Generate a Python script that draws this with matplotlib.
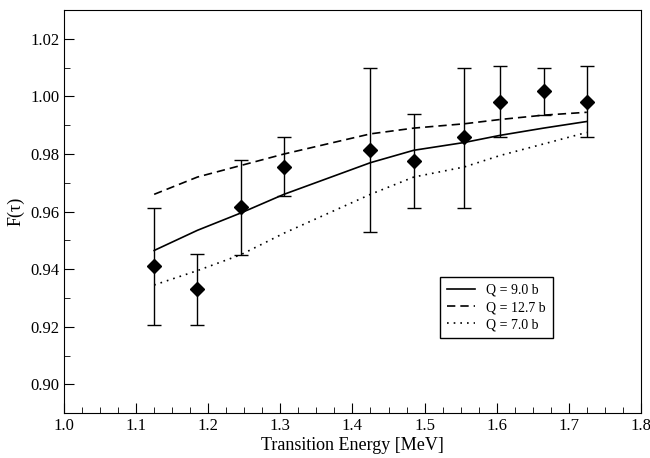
import matplotlib
matplotlib.use('Agg')
import matplotlib.pyplot as plt
from matplotlib.ticker import MultipleLocator, FormatStrFormatter

# данные
energy = [1.125, 1.185, 1.245, 1.305, 1.425, 1.485, 1.555, 1.605, 1.665, 1.725]
f_tau = [0.941, 0.933, 0.9615, 0.9755, 0.9815, 0.9775, 0.986, 0.998, 1.002, 0.998]
err_low = [0.9205, 0.9205, 0.945, 0.9655, 0.953, 0.9613, 0.9613, 0.986, 0.9935, 0.986]
err_high = [0.9613, 0.9452, 0.978, 0.986, 1.010, 0.994, 1.010, 1.0105, 1.010, 1.0105]

q_90 = [0.9465, 0.9535, 0.9595, 0.966, 0.977, 0.9813, 0.984, 0.9865, 0.989, 0.9913]
q_127 = [0.966, 0.972, 0.976, 0.980, 0.987, 0.989, 0.9905, 0.992, 0.9935, 0.9945]
q_70 = [0.9345, 0.9395, 0.945, 0.9525, 0.966, 0.972, 0.9755, 0.9795, 0.9835, 0.9875]

plt.rcParams['font.family'] = ['Liberation Serif', 'DejaVu Serif']

fig = plt.figure(figsize=(6.5, 4.58), dpi=100)
ax = fig.add_axes([0.0985, 0.098, 0.8875, 0.880])

ax.plot(energy, q_90, color='black', lw=1.2, ls='-', label='Q = 9.0 b')
ax.plot(energy, q_127, color='black', lw=1.2, ls=(0, (5, 3)), label='Q = 12.7 b')
ax.plot(energy, q_70, color='black', lw=1.2, ls=(0, (1, 3)), label='Q = 7.0 b')

yerr = [[y - lo for y, lo in zip(f_tau, err_low)],
        [hi - y for y, hi in zip(f_tau, err_high)]]
ax.errorbar(energy, f_tau, yerr=yerr, fmt='D', color='black', ms=7.5,
            ecolor='black', elinewidth=1, capsize=5, capthick=1)

ax.set_xlim(1.0, 1.8)
ax.set_ylim(0.89, 1.03)
ax.xaxis.set_major_locator(MultipleLocator(0.1))
ax.xaxis.set_minor_locator(MultipleLocator(0.025))
ax.yaxis.set_major_locator(MultipleLocator(0.02))
ax.yaxis.set_minor_locator(MultipleLocator(0.01))
ax.xaxis.set_major_formatter(FormatStrFormatter('%.1f'))
ax.yaxis.set_major_formatter(FormatStrFormatter('%.2f'))
ax.tick_params(which='both', direction='in', top=False, right=False, labelsize=12)
ax.tick_params(which='major', length=7)
ax.tick_params(which='minor', length=4)

ax.set_xlabel('Transition Energy [MeV]', fontsize=13, labelpad=2)
ax.set_ylabel('F(τ)', fontsize=13)

leg = ax.legend(loc='upper left', bbox_to_anchor=(0.64, 0.355), fontsize=10,
                fancybox=False, edgecolor='black', framealpha=1,
                handlelength=2.0, borderpad=0.5, labelspacing=0.3)
leg.get_frame().set_linewidth(1.0)

plt.savefig('out.png', dpi=100)
plt.close()
